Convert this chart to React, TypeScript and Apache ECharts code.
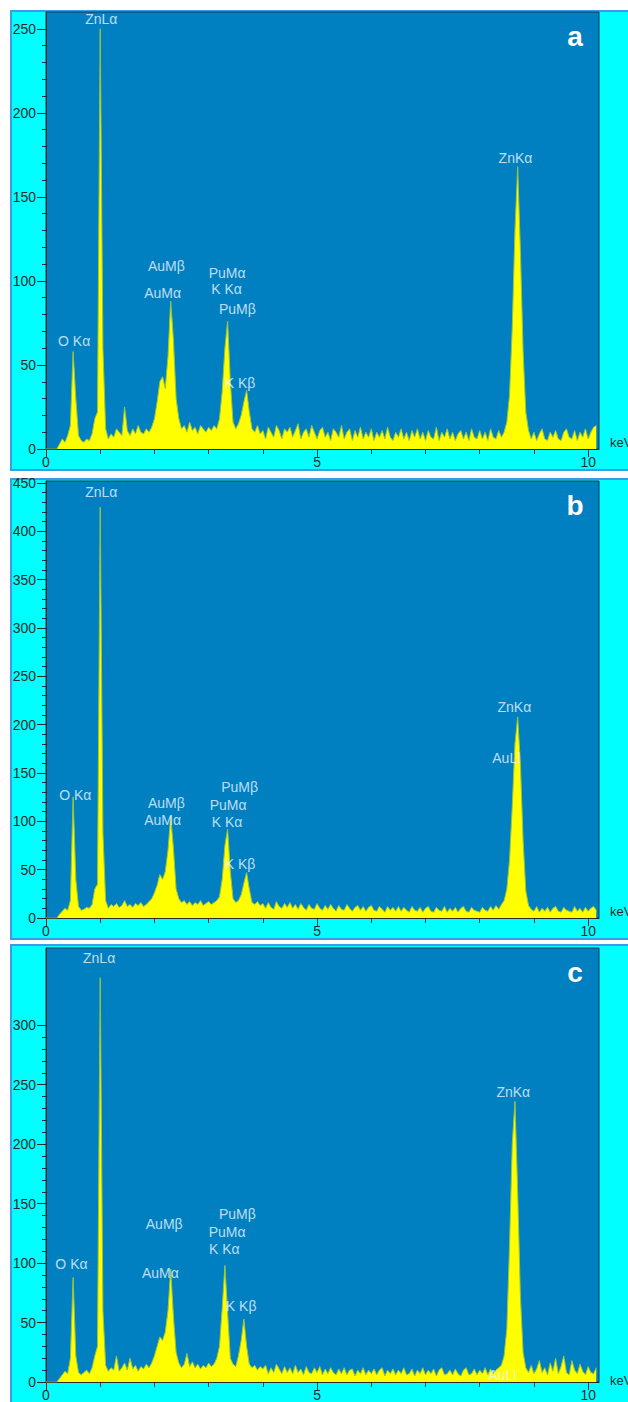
import React, { useEffect, useRef } from "react";
import * as echarts from "echarts";

// EDS spectra, channel width 0.05 keV starting at 0 keV
const CHANNEL_KEV = 0.05;

const countsA = [
  0, 0, 0, 0, 0, 3, 6, 4, 8, 14,
  58, 30, 8, 5, 4, 6, 5, 9, 18, 22,
  250, 60, 12, 6, 9, 7, 12, 10, 8, 25,
  11, 8, 12, 9, 14, 10, 9, 12, 10, 13,
  18, 28, 40, 43, 36, 55, 88, 65, 30, 18,
  12, 14, 10, 16, 11, 13, 9, 14, 12, 10,
  13, 11, 14, 12, 18, 34, 60, 76, 40, 16,
  12, 15, 20, 28, 35, 22, 12, 10, 14, 9,
  11, 6, 13, 10, 7, 14, 11, 6, 12, 10,
  13, 7, 11, 15, 6, 10, 12, 7, 14, 10,
  6, 11, 13, 7, 10, 5, 12, 10, 7, 14,
  6, 10, 12, 5, 11, 7, 13, 6, 10, 7,
  12, 5, 10, 7, 11, 6, 13, 7, 5, 10,
  7, 12, 6, 10, 5, 11, 7, 12, 6, 10,
  5, 11, 7, 6, 13, 5, 10, 7, 12, 6,
  10, 5, 9, 11, 6, 10, 5, 12, 7, 6,
  11, 6, 10, 5, 12, 7, 6, 11, 7, 10,
  16, 32, 72, 130, 168, 118, 58, 22, 11, 6,
  10, 5, 9, 12, 6, 5, 10, 7, 11, 6,
  5, 10, 12, 7, 6, 11, 5, 10, 7, 12,
  6, 10, 13, 14,
];

const countsB = [
  0, 0, 0, 0, 0, 4, 7, 10, 8, 18,
  125, 40, 12, 8, 9, 11, 10, 14, 30, 35,
  425, 88, 18, 10, 14, 12, 15, 11, 13, 18,
  12, 14, 11, 15, 13, 16, 12, 14, 17, 20,
  26, 34, 45, 40, 48, 70, 105, 72, 30, 20,
  16, 18, 14, 17, 13, 16, 14, 18, 13, 15,
  17, 14, 16, 18, 22, 40, 75, 92, 48, 20,
  16, 18, 24, 36, 47, 30, 16, 14, 17, 13,
  15, 10, 16, 11, 9, 17, 12, 10, 15, 11,
  16, 10, 14, 9, 15, 11, 8, 14, 10, 9,
  15, 10, 8, 13, 9, 14, 10, 7, 13, 9,
  8, 14, 10, 7, 11, 13, 8, 12, 7, 11,
  13, 8, 7, 12, 9, 6, 12, 8, 11, 7,
  12, 7, 11, 8, 6, 12, 8, 7, 11, 6,
  10, 12, 7, 6, 11, 8, 7, 12, 6, 10,
  7, 11, 6, 10, 12, 7, 6, 11, 8, 7,
  6, 11, 8, 7, 12, 8, 13, 9, 14, 18,
  30, 60, 115, 180, 208, 160, 80, 28, 13, 9,
  7, 12, 6, 10, 7, 11, 6, 10, 12, 7,
  6, 11, 8, 7, 6, 12, 7, 10, 6, 11,
  7, 10, 12, 8,
];

const countsC = [
  0, 0, 0, 0, 0, 3, 6, 9, 7, 20,
  88, 22, 8, 6, 8, 10, 7, 12, 22, 30,
  340, 60, 14, 9, 12, 10, 22, 9, 12, 16,
  10, 20, 11, 14, 9, 13, 11, 15, 12, 16,
  22, 30, 38, 35, 42, 60, 95, 55, 25, 16,
  12, 15, 24, 13, 17, 12, 15, 11, 14, 12,
  16, 13, 15, 20, 30, 62, 98, 58, 20, 15,
  13, 22, 35, 53, 30, 15, 12, 14, 10, 13,
  11, 14, 7, 12, 8, 15, 11, 7, 13, 8,
  12, 7, 14, 8, 11, 6, 13, 8, 7, 12,
  8, 13, 6, 11, 7, 12, 8, 6, 11, 7,
  12, 6, 10, 11, 5, 10, 7, 12, 6, 10,
  7, 11, 6, 10, 12, 5, 10, 7, 11, 6,
  10, 7, 12, 6, 7, 11, 5, 10, 7, 12,
  6, 10, 7, 11, 5, 10, 12, 6, 7, 10,
  6, 11, 7, 5, 10, 12, 6, 7, 11, 6,
  10, 7, 12, 6, 11, 7, 10, 12, 14, 22,
  45, 115, 200, 236, 160, 72, 25, 12, 8, 14,
  7, 11, 18, 8, 12, 6, 16, 9, 20, 7,
  13, 22, 8, 6, 18, 10, 7, 15, 9, 6,
  13, 8, 7, 12,
];

// peak labels: [text, energy keV, counts]
const labelsA: [string, number, number][] = [
  ["ZnLα", 1.02, 256],
  ["O Kα", 0.52, 64],
  ["AuMβ", 2.22, 109],
  ["AuMα", 2.15, 93],
  ["PuMα", 3.34, 105],
  ["K Kα", 3.33, 95],
  ["PuMβ", 3.53, 83],
  ["K Kβ", 3.58, 39],
  ["ZnKα", 8.66, 173],
];
const labelsB: [string, number, number][] = [
  ["ZnLα", 1.02, 441],
  ["O Kα", 0.54, 127],
  ["AuMβ", 2.22, 119],
  ["AuMα", 2.15, 101],
  ["PuMβ", 3.57, 135],
  ["PuMα", 3.36, 117],
  ["K Kα", 3.34, 99],
  ["K Kβ", 3.58, 56],
  ["ZnKα", 8.64, 218],
  ["AuLl", 8.49, 165],
];
const labelsC: [string, number, number][] = [
  ["ZnLα", 0.98, 357],
  ["O Kα", 0.47, 99],
  ["AuMβ", 2.18, 133],
  ["AuMα", 2.11, 92],
  ["PuMβ", 3.53, 141],
  ["PuMα", 3.34, 126],
  ["K Kα", 3.29, 112],
  ["K Kβ", 3.6, 64],
  ["ZnKα", 8.62, 244],
  ["AuLl", 8.42, 6],
];

const energyMajorTicks = [0, 5, 10];
const energyMinorTicks = [1, 2, 3, 4, 6, 7, 8, 9];
const yTicksA = [0, 50, 100, 150, 200, 250];
const yTicksB = [0, 50, 100, 150, 200, 250, 300, 350, 400, 450];
const yTicksC = [0, 50, 100, 150, 200, 250, 300];
const panelLetters = ["a", "b", "c"];

const FONT = "'Liberation Sans', Arial, sans-serif";
const AXIS_COLOR = "#2a2a2a";

function minorFrom(major: number[], step: number, max: number) {
  const out: number[] = [];
  for (let v = 0; v <= max + 1e-9; v += step) {
    if (!major.includes(Math.round(v))) out.push(Math.round(v));
  }
  return out;
}

export default function App() {
  const ref = useRef<HTMLDivElement>(null);

  useEffect(() => {
    if (!ref.current) return;
    const chart = echarts.init(ref.current, null, { renderer: "svg" });

    const panels = [
      { counts: countsA, labels: labelsA, ticks: yTicksA, yMax: 260, box: [11, 470], grid: [12, 437] },
      { counts: countsB, labels: labelsB, ticks: yTicksB, yMax: 452, box: [479, 939], grid: [481, 437] },
      { counts: countsC, labels: labelsC, ticks: yTicksC, yMax: 365, box: [945, 1420], grid: [948, 439] },
    ];

    const grids: any[] = [];
    const xAxes: any[] = [];
    const yAxes: any[] = [];
    const series: any[] = [];
    const graphics: any[] = [];

    panels.forEach((p, i) => {
      grids.push({
        left: 46,
        top: p.grid[0],
        width: 553,
        height: p.grid[1],
        show: true,
        backgroundColor: "#0080C0",
        borderColor: "#14385c",
        borderWidth: 1,
      });
      const baseX = {
        type: "value",
        gridIndex: i,
        min: 0,
        max: 10.2,
        position: "bottom",
        splitLine: { show: false },
      };
      xAxes.push({
        ...baseX,
        axisLine: { show: true, onZero: false, lineStyle: { color: AXIS_COLOR, width: 1 } },
        axisTick: { show: true, length: 8, customValues: energyMajorTicks, lineStyle: { color: AXIS_COLOR } },
        axisLabel: { show: true, customValues: energyMajorTicks, color: AXIS_COLOR, fontSize: 14, fontFamily: FONT, margin: 6 },
      });
      xAxes.push({
        ...baseX,
        axisLine: { show: false },
        axisTick: { show: true, length: 5, customValues: energyMinorTicks, lineStyle: { color: AXIS_COLOR } },
        axisLabel: { show: false },
      });
      const baseY = {
        type: "value",
        gridIndex: i,
        min: 0,
        max: p.yMax,
        position: "left",
        splitLine: { show: false },
      };
      yAxes.push({
        ...baseY,
        axisLine: { show: true, onZero: false, lineStyle: { color: AXIS_COLOR, width: 1 } },
        axisTick: { show: true, length: 9, customValues: p.ticks, lineStyle: { color: AXIS_COLOR } },
        axisLabel: { show: true, customValues: p.ticks, color: AXIS_COLOR, fontSize: 14, fontFamily: FONT, margin: 10 },
      });
      yAxes.push({
        ...baseY,
        axisLine: { show: false },
        axisTick: {
          show: true,
          length: 4,
          customValues: minorFrom(p.ticks, 10, p.ticks[p.ticks.length - 1] + 5),
          lineStyle: { color: AXIS_COLOR },
        },
        axisLabel: { show: false },
      });
      series.push({
        type: "line",
        xAxisIndex: i * 2,
        yAxisIndex: i * 2,
        data: p.counts.map((c, k) => [+(k * CHANNEL_KEV).toFixed(2), c]),
        showSymbol: false,
        symbol: "none",
        lineStyle: { color: "#9cc43a", width: 1 },
        areaStyle: { color: "#ffff00", opacity: 1 },
        z: 3,
      });
      series.push({
        type: "scatter",
        xAxisIndex: i * 2,
        yAxisIndex: i * 2,
        symbolSize: 0,
        data: p.labels.map(([name, e, c]) => ({ name, value: [e, c] })),
        label: {
          show: true,
          position: "inside",
          formatter: "{b}",
          color: "#eef6ff",
          fontSize: 14,
          fontFamily: FONT,
        },
        z: 5,
      });

      graphics.push({
        type: "rect",
        shape: { x: 11, y: p.box[0], width: 640, height: p.box[1] - p.box[0] },
        style: { fill: "#00ffff", stroke: "#3c9be6", lineWidth: 2 },
        z: -10,
      });
      graphics.push({
        type: "text",
        x: 575,
        y: p.grid[0] + 24,
        style: {
          text: panelLetters[i],
          fill: "#ffffff",
          font: `bold 28px ${FONT}`,
          align: "center",
          verticalAlign: "middle",
        },
        z: 50,
      });
      graphics.push({
        type: "text",
        x: 610,
        y: p.grid[0] + p.grid[1] - 7,
        style: {
          text: "keV",
          fill: AXIS_COLOR,
          font: `13px ${FONT}`,
          align: "left",
          verticalAlign: "middle",
        },
        z: 50,
      });
    });

    chart.setOption({
      animation: false,
      backgroundColor: "#ffffff",
      grid: grids,
      xAxis: xAxes,
      yAxis: yAxes,
      series,
      graphic: { elements: graphics },
    });

    return () => chart.dispose();
  }, []);

  return (
    <div
      ref={ref}
      style={{ position: "absolute", left: 0, top: 0, width: 628, height: 1402 }}
    />
  );
}
